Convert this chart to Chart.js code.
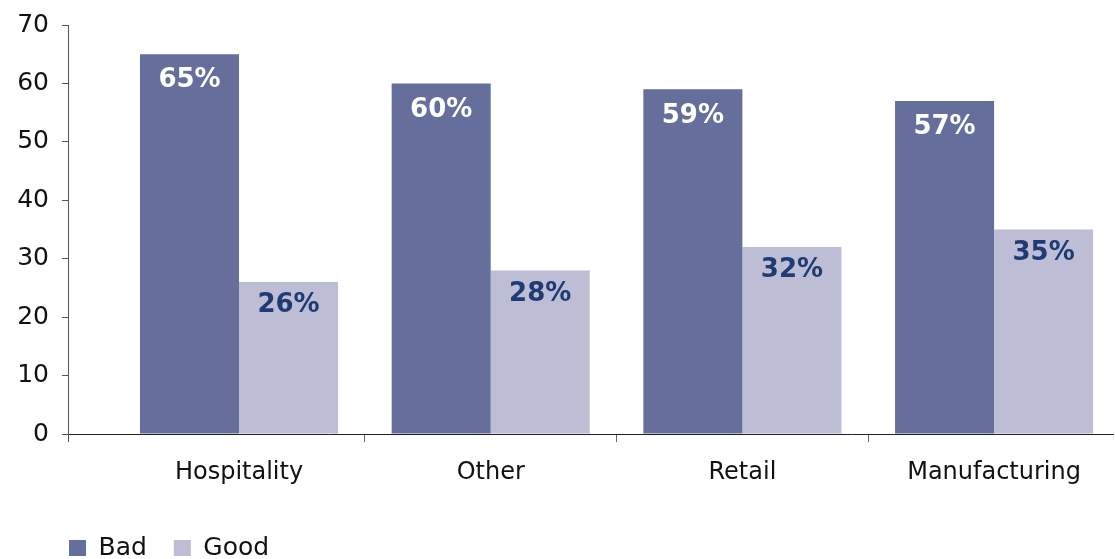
<!DOCTYPE html>
<html><head><meta charset="utf-8">
<script src="https://cdn.jsdelivr.net/npm/chart.js@4"></script>
<style>html,body{margin:0;padding:0;background:#fff}#wrap{width:1115px;height:559px;position:relative}</style>
</head><body><div id="wrap"><canvas id="c"></canvas></div>
<script>
const categories = ['Hospitality', 'Other', 'Retail', 'Manufacturing'];
const seriesNames = ['Bad', 'Good'];
const badValues = [65, 60, 59, 57];
const goodValues = [26, 28, 32, 35];
const yTicks = [0, 10, 20, 30, 40, 50, 60, 70];

const BaseCat = Chart.CategoryScale || Chart.registry.getScale('category');
class ShiftedCategoryScale extends BaseCat {
  configure() {
    super.configure();
    const o = this.options;
    if (typeof o.startValue === 'number') this._startValue = o.startValue;
    if (typeof o.valueRange === 'number') this._valueRange = o.valueRange;
  }
}
ShiftedCategoryScale.id = 'shiftedCategory';
ShiftedCategoryScale.defaults = BaseCat.defaults;
Chart.register(ShiftedCategoryScale);

const barLabels = {
  id: 'barLabels',
  afterDatasetsDraw(chart, args, opts) {
    const ctx = chart.ctx;
    chart.data.datasets.forEach((ds, di) => {
      const meta = chart.getDatasetMeta(di);
      meta.data.forEach((bar, i) => {
        ctx.save();
        ctx.font = 'bold 26px "DejaVu Sans"';
        ctx.fillStyle = opts.colors[di];
        ctx.textAlign = 'center';
        ctx.textBaseline = 'middle';
        ctx.fillText(ds.data[i] + '%', bar.x, bar.y + opts.offsets[di]);
        ctx.restore();
      });
    });
  }
};

const legendShift = {
  id: 'legendShift',
  afterLayout(chart, args, opts) {
    if (chart.legend) {
      chart.legend.left += opts.dx;
      chart.legend.top += opts.dy;
    }
  }
};

const yAxisTail = {
  id: 'yAxisTail',
  afterDraw(chart, args, opts) {
    const y = chart.scales.y;
    const ctx = chart.ctx;
    const x = Math.round(y.right) + 0.5;
    ctx.save();
    ctx.strokeStyle = opts.color;
    ctx.lineWidth = 1;
    ctx.beginPath();
    ctx.moveTo(x, y.bottom);
    ctx.lineTo(x, y.bottom + opts.length);
    ctx.stroke();
    ctx.restore();
  }
};

new Chart(document.getElementById('c'), {
  type: 'bar',
  data: {
    labels: categories,
    datasets: [
      { label: seriesNames[0], data: badValues, backgroundColor: '#666e9c', borderWidth: 0 },
      { label: seriesNames[1], data: goodValues, backgroundColor: '#bdbed6', borderWidth: 0 }
    ]
  },
  plugins: [barLabels, legendShift, yAxisTail],
  options: {
    responsive: true,
    maintainAspectRatio: false,
    animation: false,
    categoryPercentage: 0.787,
    barPercentage: 1.0,
    layout: { padding: { top: 10, right: 2, left: 0, bottom: 0 } },
    scales: {
      x: {
        type: 'shiftedCategory',
        startValue: -0.6795,
        valueRange: 4.152,
        offset: true,
        grid: {
          offset: true,
          drawOnChartArea: false,
          drawTicks: true,
          tickLength: 8,
          lineWidth: 1,
          color: c => c.index === 0 ? 'rgba(0,0,0,0)' : '#666'
        },
        border: { color: '#222', width: 1 },
        ticks: { font: { family: 'DejaVu Sans', size: 24 }, color: '#111', padding: 16, maxRotation: 0, autoSkip: false },
        afterFit: s => { s.height = 63; }
      },
      y: {
        min: 0,
        max: 70,
        afterBuildTicks: s => { s.ticks = yTicks.map(v => ({ value: v })); },
        grid: { drawOnChartArea: false, tickLength: 6, color: '#555' },
        border: { color: '#555', width: 1 },
        ticks: { font: { family: 'DejaVu Sans', size: 25, lineHeight: 0.96 }, color: '#111', padding: 13 },
        afterFit: s => { s.width = 68; }
      }
    },
    plugins: {
      legend: {
        position: 'bottom',
        align: 'start',
        fullSize: false,
        labels: { boxWidth: 17, boxHeight: 16, padding: 27, color: '#111', font: { family: 'DejaVu Sans', size: 25 } }
      },
      tooltip: { enabled: false },
      barLabels: { colors: ['#ffffff', '#1f3b73'], offsets: [26.5, 23.5] },
      legendShift: { dx: -26, dy: 11.5 },
      yAxisTail: { color: '#555', length: 8 }
    }
  }
});
</script></body></html>
